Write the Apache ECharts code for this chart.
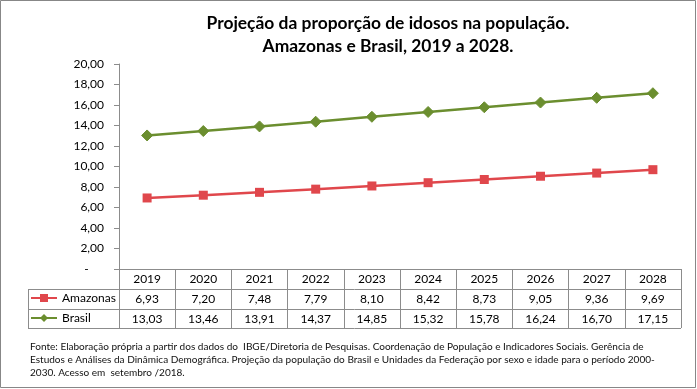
<!DOCTYPE html>
<html><head><meta charset="utf-8">
<script src="https://cdn.jsdelivr.net/npm/echarts@6/dist/echarts.min.js"></script>
<style>html,body{margin:0;padding:0;background:#fff}#c{width:697px;height:389px}</style>
</head><body><div id="c"></div>
<script>
const years = ['2019','2020','2021','2022','2023','2024','2025','2026','2027','2028'];
const amazonas = [6.93,7.20,7.48,7.79,8.10,8.42,8.73,9.05,9.36,9.69];
const brasil = [13.03,13.46,13.91,14.37,14.85,15.32,15.78,16.24,16.70,17.15];
const seriesNames = ['Amazonas','Brasil'];
const titleLines = ['Projeção da proporção de idosos na população.', 'Amazonas e Brasil, 2019 a 2028.'];
const sourceLines = [
  'Fonte: Elaboração própria a partir dos dados do  IBGE/Diretoria de Pesquisas. Coordenação de População e Indicadores Sociais. Gerência de',
  'Estudos e Análises da Dinâmica Demográfica. Projeção da população do Brasil e Unidades da Federação por sexo e idade para o período 2000-',
  '2030. Acesso em  setembro /2018.'
];

const FONT = 'Lato';
const ctx = document.createElement('canvas').getContext('2d');
function w(font, t){ ctx.font = font; return ctx.measureText(t).width; }
function fit(weight, text, target){
  const base = 20;
  return base * target / w(weight + ' ' + base + 'px ' + FONT, text);
}
const titleSize = Math.min(19, fit('bold', titleLines[0], 363));
const srcSize = Math.min(12, fit('normal', sourceLines[0], 614));
const legSize = Math.min(12, fit('normal', 'Amazonas', 55));

const fmt = v => v.toFixed(2).replace('.', ',');
const RED = '#E0474C', GREEN = '#6B8E2F', GRIDC = '#8c8c8c';

const chart = echarts.init(document.getElementById('c'));
const hide = {show:false};
const valAxis = (arr, off) => ({
  type:'category', data: years, position:'bottom', offset: off, gridIndex:0,
  axisLine: hide, axisTick: hide, splitLine: hide,
  axisLabel: {margin:4, color:'#000', fontFamily:FONT, fontSize:12,
    formatter: (v, i) => fmt(arr[i])}
});
chart.setOption({
  animation:false,
  grid:{left:119, right:16, top:64, bottom:120},
  xAxis:[
    {type:'category', data: years, boundaryGap:true,
     axisLine:{lineStyle:{color:GRIDC, width:1}},
     axisTick:{show:true, inside:true, length:-59, lineStyle:{color:GRIDC}},
     axisLabel:{margin:4, color:'#000', fontFamily:FONT, fontSize:12}},
    valAxis(amazonas, 20),
    valAxis(brasil, 40)
  ],
  yAxis:{type:'value', min:0, max:20, interval:2,
    axisLine:{show:true, lineStyle:{color:GRIDC}},
    axisTick:{show:true, length:5, lineStyle:{color:GRIDC}},
    splitLine:hide,
    axisLabel:{margin:15, color:'#000', fontFamily:FONT, fontSize:12,
      formatter: v => v === 0 ? '-     ' : fmt(v)}},
  legend:{orient:'vertical', left:30, top:292, padding:0, itemWidth:26, itemHeight:10, itemGap:8,
    textStyle:{fontFamily:FONT, fontSize:legSize, color:'#000'},
    data: seriesNames},
  series:[
    {name:seriesNames[0], type:'line', data:amazonas, symbol:'rect', symbolSize:9,
     lineStyle:{color:RED, width:2.5}, itemStyle:{color:RED}},
    {name:seriesNames[1], type:'line', data:brasil, symbol:'diamond', symbolSize:11,
     lineStyle:{color:GREEN, width:2.5}, itemStyle:{color:GREEN, borderColor:GREEN}}
  ],
  graphic:[
    {type:'rect', shape:{x:0.5,y:0.5,width:695,height:387}, style:{fill:null, stroke:'#878787', lineWidth:1}},
    {type:'text', x:388, y:12, style:{text:titleLines.join('\n'), textAlign:'center', font:'bold '+titleSize.toFixed(2)+'px '+FONT, lineHeight:23, fill:'#000'}},
    {type:'line', shape:{x1:28,y1:289.5,x2:681,y2:289.5}, style:{stroke:GRIDC}},
    {type:'line', shape:{x1:28,y1:309.5,x2:681,y2:309.5}, style:{stroke:GRIDC}},
    {type:'line', shape:{x1:28,y1:328.5,x2:681,y2:328.5}, style:{stroke:GRIDC}},
    {type:'line', shape:{x1:28.5,y1:289,x2:28.5,y2:328}, style:{stroke:GRIDC}},
    {type:'text', x:30, y:340, style:{text:sourceLines.join('\n'), font:srcSize.toFixed(2)+'px '+FONT, lineHeight:13, fill:'#111'}}
  ]
});
</script></body></html>
